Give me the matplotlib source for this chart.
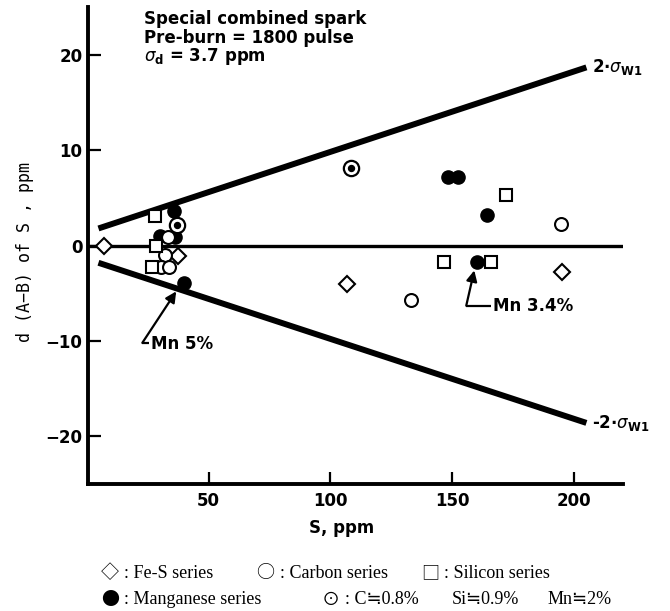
import matplotlib
matplotlib.use('Agg')
import matplotlib.pyplot as plt

plt.rcParams['font.family'] = ['DejaVu Sans']
plt.rcParams['mathtext.fontset'] = 'custom'
plt.rcParams['mathtext.rm'] = 'DejaVu Sans:bold'
plt.rcParams['mathtext.it'] = 'DejaVu Sans:italic'
plt.rcParams['mathtext.bf'] = 'DejaVu Sans:bold'

# ---------------- data ----------------
fes_s = [7.0, 37.5, 106.8, 195.0]
fes_d = [0.0, -1.1, -4.0, -2.8]

carbon_s = [33.2, 32.2, 30.6, 33.6, 133.2, 194.6]
carbon_d = [0.9, -0.95, -2.2, -2.2, -5.7, 2.3]

silicon_s = [28.1, 28.5, 26.8, 146.4, 165.7, 172.1]
silicon_d = [3.1, 0.0, -2.2, -1.75, -1.75, 5.3]

mn_s = [35.6, 30.2, 36.3, 40.0, 148.2, 152.3, 164.1, 160.2]
mn_d = [3.6, 1.0, 0.9, -3.9, 7.15, 7.15, 3.25, -1.7]

special_s = [37.0, 108.6]
special_d = [2.2, 8.1]

limit_s = [4.8, 205.0]
limit_upper = [1.8, 18.7]
limit_lower = [-1.8, -18.6]

zero_s = [0.5, 220.0]
zero_d = [0.0, 0.0]

x_ticks = [50, 100, 150, 200]
y_ticks = [-20, -10, 0, 10, 20]

# ---------------- figure ----------------
fig = plt.figure(figsize=(6.7, 6.11), dpi=100)
ax = fig.add_axes([0.1313, 0.208, 0.7985, 0.780])
ax.set_xlim(0.5, 220)
ax.set_ylim(-25, 25)

for side in ('top', 'right'):
    ax.spines[side].set_visible(False)
for side in ('left', 'bottom'):
    ax.spines[side].set_linewidth(2.8)

ax.set_xticks(x_ticks)
ax.set_yticks(y_ticks)
ax.tick_params(direction='in', length=9, width=1.6, labelsize=12)
ax.tick_params(axis='x', pad=6)
ax.tick_params(axis='y', pad=4)
for lab in ax.get_xticklabels() + ax.get_yticklabels():
    lab.set_fontweight('bold')

# reference lines
ax.plot(zero_s, zero_d, color='k', lw=2.4, solid_capstyle='butt', zorder=2)
ax.plot(limit_s, limit_upper, color='k', lw=4.3, solid_capstyle='butt', zorder=2)
ax.plot(limit_s, limit_lower, color='k', lw=4.3, solid_capstyle='butt', zorder=2)

# markers
ax.plot(mn_s, mn_d, 'o', ms=9.5, mfc='k', mec='k', zorder=3)
ax.plot(fes_s, fes_d, 'D', ms=7.8, mfc='white', mec='k', mew=1.5, zorder=4)
ax.plot(carbon_s, carbon_d, 'o', ms=9.3, mfc='white', mec='k', mew=1.5, zorder=4)
ax.plot(silicon_s, silicon_d, 's', ms=8.3, mfc='white', mec='k', mew=1.5, zorder=4)
ax.plot(special_s, special_d, 'o', ms=11, mfc='white', mec='k', mew=1.6, zorder=5)
ax.plot(special_s, special_d, 'o', ms=4.3, mfc='k', mec='k', zorder=6)

# line labels
ax.text(207.5, limit_upper[1], r'2$\cdot\sigma_{\mathbf{W1}}$', fontsize=12,
        fontweight='bold', va='center', ha='left', clip_on=False)
ax.text(207.5, limit_lower[1], r'-2$\cdot\sigma_{\mathbf{W1}}$', fontsize=12,
        fontweight='bold', va='center', ha='left', clip_on=False)

# header text
ax.text(23.6, 23.8, 'Special combined spark', fontsize=12, fontweight='bold', va='center')
ax.text(23.6, 21.8, 'Pre-burn = 1800 pulse', fontsize=12, fontweight='bold', va='center')
ax.text(23.6, 19.8, r'$\sigma_{\mathbf{d}}$ = 3.7 ppm', fontsize=12, fontweight='bold', va='center')

# annotations with L-shaped leaders
def leader(text, text_xy, corner_xy, tip_xy):
    ax.text(text_xy[0], text_xy[1], text, fontsize=12, fontweight='bold',
            va='center', ha='left')
    ax.plot([text_xy[0] - 0.8, corner_xy[0]], [corner_xy[1], corner_xy[1]],
            color='k', lw=1.6, solid_capstyle='butt')
    ax.annotate('', xy=tip_xy, xytext=corner_xy,
                arrowprops=dict(arrowstyle='-|>', color='k', lw=1.6,
                                mutation_scale=16, shrinkA=0, shrinkB=0))

leader('Mn 3.4%', (166.5, -6.35), (155.7, -6.3), (159.0, -2.6))
leader('Mn 5%', (26.5, -10.3), (22.8, -10.2), (36.7, -4.8))

# axis labels
fig.text(342 / 670, 1 - 528 / 611, 'S, ppm', fontsize=12, fontweight='bold',
         ha='center', va='center')
fig.text(25 / 670, 1 - 252 / 611, 'd (A\u2212B) of S , ppm', rotation=90,
         fontsize=12, family='DejaVu Sans Mono', ha='center', va='center')

# legend lines (typeset text: symbols + descriptions)
sym_font = ['Noto Sans CJK JP', 'DejaVu Sans']
txt_font = ['Liberation Serif', 'Noto Sans CJK JP', 'DejaVu Sans']
y1 = 1 - 573 / 611
y2 = 1 - 600 / 611
legend_symbols = [(101, '\u25c7', y1), (256, '\u25cb', y1), (421, '\u25a1', y1),
                  (101, '\u25cf', y2), (322, '\u2299', y2)]
legend_texts = [(124, ': Fe-S series', y1),
                (280, ': Carbon series', y1),
                (444, ': Silicon series', y1),
                (124, ': Manganese series', y2),
                (345, ': C\u22520.8%', y2),
                (452, 'Si\u22520.9%', y2),
                (548, 'Mn\u22522%', y2)]
for x, s, y in legend_symbols:
    fig.text(x / 670, y, s, fontsize=13, family=sym_font, ha='left', va='center')
for x, s, y in legend_texts:
    fig.text(x / 670, y, s, fontsize=13, family=txt_font, ha='left', va='center')

fig.savefig('out.png', dpi=100)
